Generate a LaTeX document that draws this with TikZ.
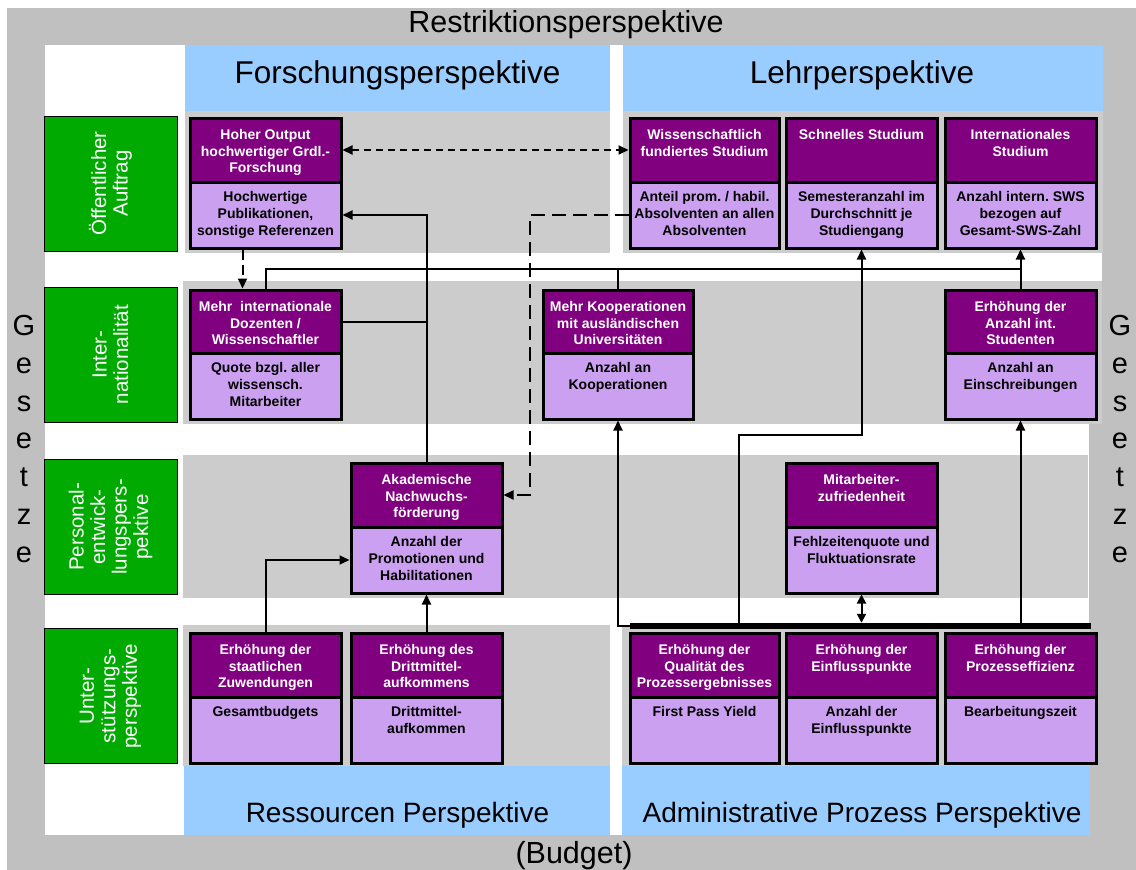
\documentclass[tikz,border=0pt]{standalone}
\usepackage{fontspec}
\setmainfont{Liberation Sans}
\usetikzlibrary{arrows.meta}
\frenchspacing
\definecolor{outergray}{RGB}{192,192,192}
\definecolor{bandgray}{RGB}{204,204,204}
\definecolor{hdrblue}{RGB}{153,204,255}
\definecolor{grn}{RGB}{0,170,0}
\definecolor{dpurple}{RGB}{128,0,128}
\definecolor{lpurple}{RGB}{204,160,240}
\newcommand\kfont{\fontsize{14}{16.7}\selectfont\bfseries}
\newcommand\kpi[8]{%
  \node[ktop,minimum width={#3-#2},minimum height={#5-#4}] (#1-t) at ({(#2+#3)/2},{(#4+#5)/2}) {};
  \node[kbot,minimum width={#3-#2},minimum height={#6-#5}] (#1-b) at ({(#2+#3)/2},{(#5+#6)/2}) {};
  \node[kttext,anchor=north] (#1-tt) at ([yshift=-12.5pt]#1-t.north) {#7};
  \node[kbtext,anchor=north] (#1-bt) at ([yshift=-11pt]#1-b.north) {#8};
}
\begin{document}
\begin{tikzpicture}[x=1pt,y=-1pt,
  ktop/.style={draw=black,line width=3pt,fill=dpurple,inner sep=0pt,rectangle},
  kbot/.style={draw=black,line width=3pt,fill=lpurple,inner sep=0pt,rectangle},
  kttext/.style={text=white,font=\kfont,align=center,inner sep=0pt},
  kbtext/.style={text=black,font=\kfont,align=center,inner sep=0pt},
  glabel/.style={draw=black,line width=0.8pt,fill=grn,text=white,rotate=90,align=center,inner sep=0pt,
     font=\fontsize{20.5}{21.5}\selectfont,minimum width=135pt,minimum height=133pt},
  hdr/.style={font=\fontsize{28}{32}\selectfont,anchor=base,inner sep=0pt},
  hdrbig/.style={font=\fontsize{31.5}{35}\selectfont,anchor=base,inner sep=0pt},
  frametxt/.style={font=\fontsize{30.5}{34}\selectfont,anchor=base,inner sep=0pt},
  gesetz/.style={font=\fontsize{29}{37.7}\selectfont,align=center,inner sep=0pt},
  conn/.style={line width=2pt,draw=black},
  arr/.style={-{Triangle[length=10pt,width=9pt]}},
  shortdash/.style={dash pattern=on 7pt off 5pt},
  middash/.style={dash pattern=on 10pt off 5pt},
  longdash/.style={dash pattern=on 14pt off 7pt}
]
\useasboundingbox (0,0) rectangle (1136,870);
% backgrounds
\fill[white] (0,0) rectangle (1136,870);
\fill[outergray] (7,8) rectangle (1136,870);
\fill[white] (45,45) rectangle (1089,835);
\fill[white] (1089,45) rectangle (1102,424);
% headers
\fill[hdrblue] (185,45) rectangle (610,111);
\fill[hdrblue] (623,45) rectangle (1103,111);
\fill[hdrblue] (184,766) rectangle (610,835);
\fill[hdrblue] (622,766) rectangle (1090,835);
% bands
\fill[bandgray] (185,111) rectangle (610,253);
\fill[bandgray] (623,111) rectangle (1103,253);
\fill[bandgray] (183,281) rectangle (1102,424);
\fill[bandgray] (183,455) rectangle (1088,598);
\fill[bandgray] (183,625) rectangle (610,766);
\fill[bandgray] (622,625) rectangle (1090,766);
% texts of frame
\node[frametxt] (restr) at (566,32) {Restriktionsperspektive};
\node[frametxt] (budget) at (574,863) {(Budget)};
\node[hdrbig] (forsch) at (397.5,83) {Forschungsperspektive};
\node[hdrbig] (lehr) at (862,83) {Lehrperspektive};
\node[hdr] (ress) at (397.5,822) {Ressourcen Perspektive};
\node[hdr] (admin) at (862,822) {Administrative Prozess Perspektive};
\node[gesetz] (gesL) at (24,439) {G\\e\\s\\e\\t\\z\\e};
\node[gesetz] (gesR) at (1120,439) {G\\e\\s\\e\\t\\z\\e};
% green row labels
\node[glabel] (g1) at (110.5,183.5) {Öffentlicher\\Auftrag};
\node[glabel] (g2) at (110.5,354.5) {Inter-\\nationalität};
\node[glabel] (g3) at (110.5,527) {Personal-\\entwick-\\lungspers-\\pektive};
\node[glabel] (g4) at (110.5,696) {Unter-\\stützungs-\\perspektive};
% KPI boxes
\kpi{A1}{190}{341}{118}{182}{248}{Hoher Output\\hochwertiger Grdl.-\\Forschung}{Hochwertige\\Publikationen,\\sonstige Referenzen}
\kpi{W}{630}{779}{118}{182}{248}{Wissenschaftlich\\fundiertes Studium}{Anteil prom. / habil.\\Absolventen an allen\\Absolventen}
\kpi{SS}{786}{937}{118}{182}{248}{Schnelles Studium}{Semesteranzahl im\\Durchschnitt je\\Studiengang}
\kpi{IS}{945}{1096}{118}{182}{248}{Internationales\\Studium}{Anzahl intern. SWS\\bezogen auf\\Gesamt-SWS-Zahl}
\kpi{D}{190}{341}{290}{353}{419}{Mehr\ \ internationale\\Dozenten /\\Wissenschaftler}{Quote bzgl. aller\\wissensch.\\Mitarbeiter}
\kpi{K}{543}{693}{290}{353}{419}{Mehr Kooperationen\\mit ausländischen\\Universitäten}{Anzahl an\\Kooperationen}
\kpi{ES}{945}{1096}{290}{353}{419}{Erhöhung der\\Anzahl int.\\Studenten}{Anzahl an\\Einschreibungen}
\kpi{AK}{351}{502}{463}{527}{593}{Akademische\\Nachwuchs-\\förderung}{Anzahl der\\Promotionen und\\Habilitationen}
\kpi{MZ}{786}{937}{463}{527}{593}{Mitarbeiter-\\zufriedenheit}{Fehlzeitenquote und\\Fluktuationsrate}
\kpi{Z}{190}{341}{633}{697}{763}{Erhöhung der\\staatlichen\\Zuwendungen}{Gesamtbudgets}
\kpi{DM}{351}{502}{633}{697}{763}{Erhöhung des\\Drittmittel-\\aufkommens}{Drittmittel-\\aufkommen}
\kpi{Q}{630}{779}{633}{697}{763}{Erhöhung der\\Qualität des\\Prozessergebnisses}{First Pass Yield}
\kpi{EP}{786}{937}{633}{697}{763}{Erhöhung der\\Einflusspunkte}{Anzahl der\\Einflusspunkte}
\kpi{PE}{945}{1096}{633}{697}{763}{Erhöhung der\\Prozesseffizienz}{Bearbeitungszeit}
% bar
\node[fill=black,inner sep=0pt,minimum width=461pt,minimum height=6pt] (bar) at (860.5,626) {};
% connectors
\coordinate (h1) at (265.5,269);
\coordinate (b2) at (739,626);
\coordinate (h2) at (739,435);
\draw[conn,shortdash,{Triangle[length=10pt,width=9pt]}-{Triangle[length=10pt,width=9pt]}] (A1-t.east) -- (A1-t.east -| W-t.west);
\draw[conn,arr] (AK-t.north) |- (A1-b.east);
\draw[conn] (D-t.east) -- (D-t.east -| AK-t.north);
\draw[conn,middash,arr] ([xshift=-23pt]A1-b.south) -- ([xshift=-23pt]D-t.north);
\draw[conn,arr] (D-t.north) -- (D-t.north |- h1) -| (IS-b.south);
\draw[conn] (K-t.north) -- (K-t.north |- h1);
\draw[conn] (ES-t.north) -- (ES-t.north |- h1);
\draw[conn,arr] (b2) -- (h2) -| (SS-b.south);
\draw[conn,arr] (bar.west) -| (K-b.south);
\draw[conn,arr] (ES-b.south |- bar.north) -- (ES-b.south);
\draw[conn,{Triangle[length=9pt,width=9pt]}-{Triangle[length=9pt,width=9pt]}] (MZ-b.south) -- (MZ-b.south |- bar.north);
\draw[conn,longdash,arr] (W-b.west) -- ++(-99,0) |- (AK-t.east);
\draw[conn,arr] (Z-t.north) |- (AK-b.west);
\draw[conn,arr] (DM-t.north) -- (AK-b.south);
\end{tikzpicture}
\end{document}
